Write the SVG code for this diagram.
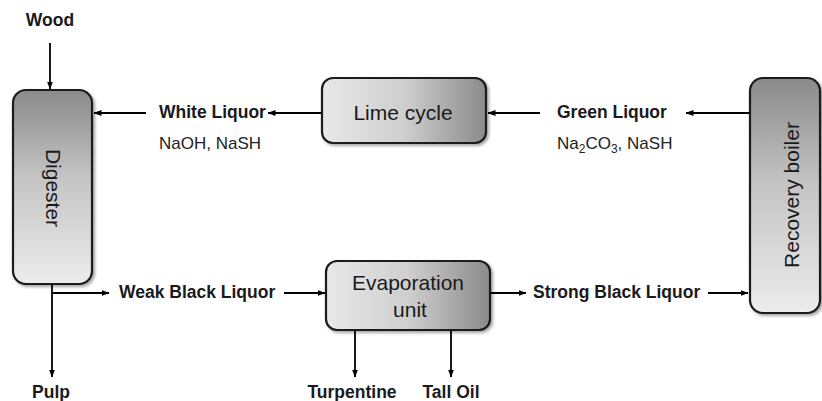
<svg xmlns="http://www.w3.org/2000/svg" width="822" height="401" viewBox="0 0 822 401">
<defs>
<linearGradient id="gv" x1="0" y1="0" x2="0" y2="1">
<stop offset="0" stop-color="#8a8a8a"/>
<stop offset="0.45" stop-color="#c4c4c4"/>
<stop offset="1" stop-color="#ececec"/>
</linearGradient>
<linearGradient id="gh" x1="0" y1="0" x2="1" y2="0">
<stop offset="0" stop-color="#e8e8e8"/>
<stop offset="0.5" stop-color="#cfcfcf"/>
<stop offset="1" stop-color="#8a8a8a"/>
</linearGradient>
<filter id="sh" x="-10%" y="-10%" width="125%" height="125%">
<feGaussianBlur in="SourceAlpha" stdDeviation="1.5"/>
<feOffset dx="1.5" dy="2" result="b"/>
<feComponentTransfer><feFuncA type="linear" slope="0.35"/></feComponentTransfer>
<feMerge><feMergeNode/><feMergeNode in="SourceGraphic"/></feMerge>
</filter>
<marker id="ah" markerWidth="8" markerHeight="7" refX="7.5" refY="3.5" orient="auto" markerUnits="userSpaceOnUse">
<path d="M0,0.5 L8,3.5 L0,6.5 Z" fill="#000"/>
</marker>
</defs>
<style>
.box{stroke:#1a1a1a;stroke-width:2.2;filter:url(#sh)}
.lbl{font-family:"Liberation Sans",Arial,sans-serif;font-weight:bold;font-size:17.5px;fill:#1a1a1a}
.chem{font-family:"Liberation Sans",Arial,sans-serif;font-size:17px;fill:#222}
.big{font-family:"Liberation Sans",Arial,sans-serif;font-size:21px;fill:#1a1a1a;text-anchor:middle}
.ln{stroke:#000;stroke-width:1.8;fill:none}
.arr{stroke:#000;stroke-width:1.8;fill:none;marker-end:url(#ah)}
</style>
<rect width="822" height="401" fill="#fff"/>

<g id="digester">
<rect class="box" x="13" y="90" width="79" height="194" rx="13" fill="url(#gv)"/>
<text class="big" transform="translate(46,188) rotate(90)">Digester</text>
</g>

<g id="lime-cycle">
<rect class="box" x="322" y="78" width="164" height="65" rx="11" fill="url(#gh)"/>
<text class="big" x="403" y="120">Lime cycle</text>
</g>

<g id="recovery-boiler">
<rect class="box" x="750" y="78" width="70" height="235" rx="13" fill="url(#gv)"/>
<text class="big" transform="translate(799,195) rotate(-90)">Recovery boiler</text>
</g>

<g id="evaporation-unit">
<rect class="box" x="326" y="261" width="164" height="69" rx="11" fill="url(#gh)"/>
<text class="big" x="408" y="290">Evaporation</text>
<text class="big" x="410" y="317">unit</text>
</g>

<g id="labels">
<text class="lbl" x="50" y="26" text-anchor="middle">Wood</text>
<text class="lbl" x="159" y="118">White Liquor</text>
<text class="chem" x="159" y="149">NaOH, NaSH</text>
<text class="lbl" x="557" y="118">Green Liquor</text>
<text class="chem" x="557" y="149">Na<tspan font-size="12" dy="4">2</tspan><tspan dy="-4">CO</tspan><tspan font-size="12" dy="4">3</tspan><tspan dy="-4">, NaSH</tspan></text>
<text class="lbl" x="119" y="298">Weak Black Liquor</text>
<text class="lbl" x="533" y="298">Strong Black Liquor</text>
<text class="lbl" x="51" y="398" text-anchor="middle">Pulp</text>
<text class="lbl" x="352" y="398" text-anchor="middle">Turpentine</text>
<text class="lbl" x="451" y="398" text-anchor="middle">Tall Oil</text>
</g>

<g id="connectors">
<line class="arr" x1="50" y1="43" x2="50" y2="89"/>
<line class="arr" x1="146" y1="113" x2="94" y2="113"/>
<line class="arr" x1="321" y1="113" x2="268" y2="113"/>
<line class="arr" x1="540" y1="113" x2="488" y2="113"/>
<line class="arr" x1="750" y1="113" x2="686" y2="113"/>
<line class="arr" x1="708" y1="293" x2="748" y2="293"/>
<line class="arr" x1="52" y1="284" x2="52" y2="377"/>
<line class="arr" x1="52" y1="293" x2="109" y2="293"/>
<line class="arr" x1="284" y1="293" x2="325" y2="293"/>
<line class="arr" x1="490" y1="293" x2="526" y2="293"/>
<line class="arr" x1="355" y1="330" x2="355" y2="377"/>
<line class="arr" x1="451" y1="330" x2="451" y2="377"/>
</g>
</svg>
